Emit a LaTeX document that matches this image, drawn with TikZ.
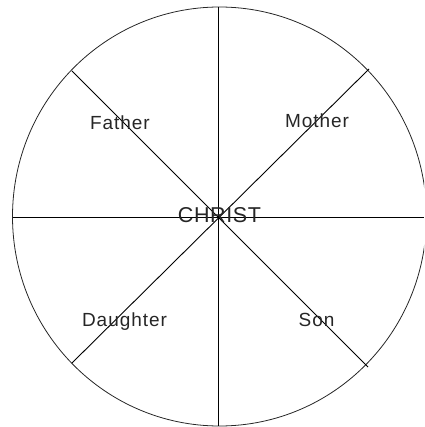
\documentclass[tikz,border=0pt]{standalone}
\usepackage{fontspec}
\setmainfont{Liberation Sans}
\begin{document}
\begin{tikzpicture}[x=1pt,y=-1pt,
  lbl/.style={font=\fontsize{19}{22}\selectfont\addfontfeature{LetterSpace=5}, text=black!85, inner sep=0pt},
  spoke/.style={draw=black, line width=0.9pt}]
\useasboundingbox (0,0) rectangle (424,427);
\begin{scope}
\clip (0,0) rectangle (424,427);
\draw[line width=0.8pt, black!85] (219.5,216.5) ellipse [x radius=207, y radius=209.5];
\end{scope}
\coordinate (c) at (218,217);
\coordinate (t) at (218,7);
\coordinate (b) at (218,426);
\coordinate (l) at (13,217);
\coordinate (r) at (424,217);
\coordinate (ul) at (72,71);
\coordinate (ur) at (369,69);
\coordinate (ll) at (72,363);
\coordinate (lr) at (368,367);
\draw[spoke] (t) -- (b);
\draw[spoke] (l) -- (r);
\draw[spoke] (ul) -- (lr);
\draw[spoke] (ur) -- (ll);
\node[lbl] (father) at (120,123) {Father};
\node[lbl] (mother) at (317,121) {Mother};
\node[lbl] (daughter) at (124.5,322) {Daughter};
\node[lbl] (son) at (316.5,320) {Son};
\node[lbl, font=\fontsize{21.5}{24}\selectfont\addfontfeature{LetterSpace=3}] (christ) at (219.5,215) {CHRIST};
\end{tikzpicture}
\end{document}
